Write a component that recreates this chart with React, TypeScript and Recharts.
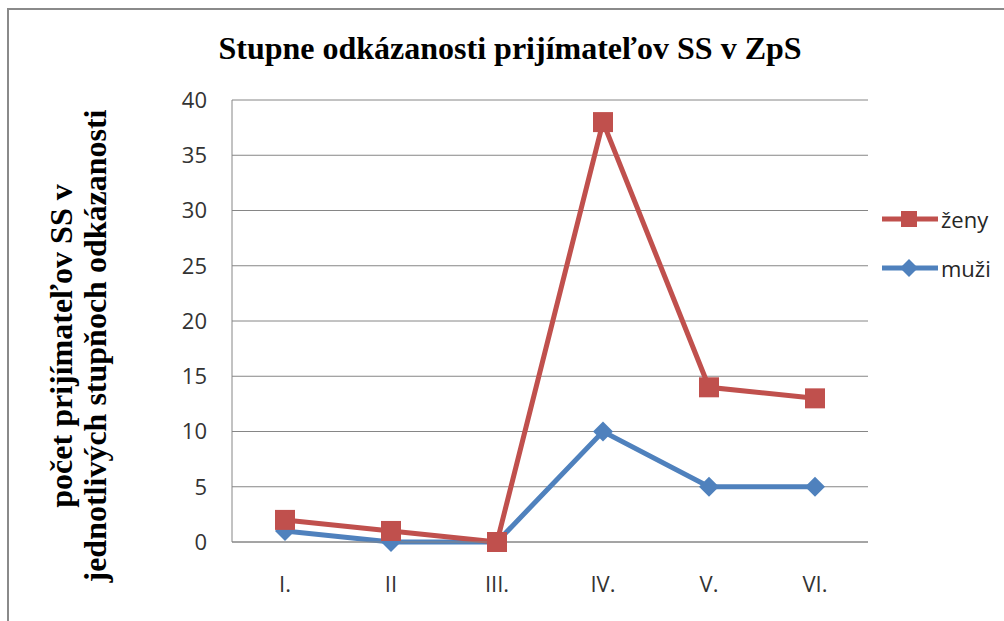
import React from 'react';
import { LineChart, Line, XAxis, YAxis, CartesianGrid } from 'recharts';

const categories = ['I.', 'II', 'III.', 'IV.', 'V.', 'VI.'];
const zeny = [2, 1, 0, 38, 14, 13];
const muzi = [1, 0, 0, 10, 5, 5];
const yTicks = [0, 5, 10, 15, 20, 25, 30, 35, 40];

const RED = '#C0504D';
const BLUE = '#4F81BD';
const GRID = '#868686';
const SANS = '"Open Sans", "Noto Sans", sans-serif';
const SERIF = '"Liberation Serif", "DejaVu Serif", serif';

const data = categories.map((name, i) => ({ name, zeny: zeny[i], muzi: muzi[i] }));

const SquareDot = (props: any) => {
    const { cx, cy } = props;
    if (cx == null || cy == null) return null;
    return <rect x={cx - 10} y={cy - 10} width={20} height={20} fill={RED} />;
};

const DiamondDot = (props: any) => {
    const { cx, cy } = props;
    if (cx == null || cy == null) return null;
    return <polygon points={`${cx},${cy - 10} ${cx + 10},${cy} ${cx},${cy + 10} ${cx - 10},${cy}`} fill={BLUE} />;
};

const legendItems = [
    { label: 'ženy', color: RED, shape: 'square' },
    { label: 'muži', color: BLUE, shape: 'diamond' },
];

const ChartLegend = () => (
    <div style={{ position: 'absolute', left: 880, top: 194, width: 124 }}>
        {legendItems.map(item => (
            <div key={item.label} style={{ display: 'flex', alignItems: 'center', height: 49 }}>
                <svg width={60} height={24}>
                    <line x1={2} y1={12} x2={58} y2={12} stroke={item.color} strokeWidth={5} />
                    {item.shape === 'square'
                        ? <rect x={21} y={4} width={16} height={16} fill={item.color} />
                        : <polygon points="29,3 38,12 29,21 20,12" fill={item.color} />}
                </svg>
                <span style={{ fontFamily: SANS, fontSize: 22, color: '#262626', marginLeft: 1 }}>{item.label}</span>
            </div>
        ))}
    </div>
);

export default function App() {
    return (
        <div style={{ position: 'absolute', left: 0, top: 0, width: 1004, height: 621, overflow: 'hidden', background: '#fff' }}>
            <div style={{
                position: 'absolute',
                left: 7,
                top: 8,
                width: 1100,
                height: 700,
                border: '2px solid #8a8a8a',
            }} />
            <LineChart
                width={1004}
                height={621}
                data={data}
                margin={{ top: 100, right: 136, left: 172, bottom: 39 }}
                style={{ position: 'absolute', left: 0, top: 0 }}
            >
                <CartesianGrid vertical={false} stroke={GRID} strokeWidth={1} />
                <XAxis
                    dataKey="name"
                    height={40}
                    padding={{ left: 53, right: 53 }}
                    tickLine={false}
                    tickSize={0}
                    tickMargin={34}
                    axisLine={{ stroke: GRID }}
                    tick={{ fill: '#333', fontSize: 22, fontFamily: SANS }}
                />
                <YAxis
                    width={60}
                    domain={[0, 40]}
                    ticks={yTicks}
                    interval={0}
                    tickLine={false}
                    tickSize={0}
                    tickMargin={25}
                    axisLine={{ stroke: GRID }}
                    tick={{ fill: '#333', fontSize: 22, fontFamily: SANS }}
                />
                <Line
                    dataKey="muzi"
                    name="muži"
                    stroke={BLUE}
                    strokeWidth={5}
                    dot={<DiamondDot />}
                    activeDot={false}
                    isAnimationActive={false}
                />
                <Line
                    dataKey="zeny"
                    name="ženy"
                    stroke={RED}
                    strokeWidth={5}
                    dot={<SquareDot />}
                    activeDot={false}
                    isAnimationActive={false}
                />
            </LineChart>
            <ChartLegend />
            <svg width={1004} height={621} style={{ position: 'absolute', left: 0, top: 0, pointerEvents: 'none' }}>
                <text x={510} y={59} textAnchor="middle" fontFamily={SERIF} fontWeight="bold" fontSize={32} fill="#000">
                    Stupne odkázanosti prijímateľov SS v ZpS
                </text>
                <g transform="translate(0, 346) rotate(-90)">
                    <text x={0} y={72} textAnchor="middle" fontFamily={SERIF} fontWeight="bold" fontSize={32} fill="#000">
                        počet prijímateľov SS v
                    </text>
                    <text x={0} y={106} textAnchor="middle" fontFamily={SERIF} fontWeight="bold" fontSize={32} fill="#000">
                        jednotlivých stupňoch odkázanosti
                    </text>
                </g>
            </svg>
        </div>
    );
}
